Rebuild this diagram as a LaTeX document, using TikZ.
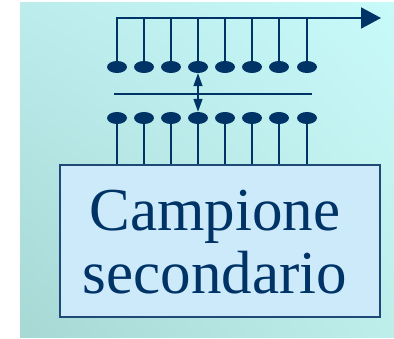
\documentclass[tikz,border=0pt]{standalone}
\usepackage{fontspec}
\setmainfont{Liberation Serif}
\newfontfamily\labelfont{Liberation Serif}
\usetikzlibrary{arrows.meta,shapes.geometric,shadings}
\definecolor{navy}{HTML}{003366}
\definecolor{boxfill}{HTML}{CCEAFA}
\definecolor{boxline}{HTML}{1F4A78}
\definecolor{bgUL}{HTML}{BCECEC}
\definecolor{bgUR}{HTML}{C8FAFA}
\definecolor{bgLL}{HTML}{A6D8D4}
\definecolor{bgLR}{HTML}{BEEEEA}
\tikzset{
  dotnode/.style={ellipse,fill=navy,draw=none,minimum width=20pt,minimum height=12pt,inner sep=0pt},
  wire/.style={draw=navy,line width=2pt},
  thinwire/.style={draw=navy,line width=1.4pt},
  bigtip/.style={-{Triangle[length=20pt,width=21pt]}},
  smalltips/.style={{Triangle[length=13pt,width=9pt]}-{Triangle[length=13pt,width=9pt]}},
  samplebox/.style={draw=boxline,fill=boxfill,line width=1.5pt,minimum width=320pt,minimum height=152pt,inner sep=0pt}
}
\begin{document}
\begin{tikzpicture}[x=1pt,y=-1pt]
\useasboundingbox (0,0) rectangle (394,339);
\shade[upper left=bgUL,upper right=bgUR,lower left=bgLL,lower right=bgLR] (20,3) rectangle (394,338);
% box
\node[samplebox] (box) at (220,241) {};
\node[text=navy,font=\labelfont\fontsize{61}{63}\selectfont,align=center,inner sep=0pt] (label) at (215,242) {Campione\\secondario};
% dots
\foreach \i/\x in {1/117,2/144,3/171,4/198,5/225,6/252,7/279,8/307}{
  \node[dotnode] (u\i) at (\x,67) {};
  \node[dotnode] (l\i) at (\x,118) {};
}
\coordinate (topend) at (381,18);
\coordinate (ml) at (114,94);
\coordinate (mr) at (312,94);
% top bus
\draw[wire,bigtip] (u1.center) |- (topend);
\foreach \i in {2,...,8}{
  \draw[wire] (u\i.center) -- (u\i |- topend);
}
% lower leads
\foreach \i in {1,...,8}{
  \draw[wire] (l\i.center) -- (l\i |- box.north);
}
% middle line
\draw[thinwire] (ml) -- (mr);
% double arrow
\draw[thinwire,smalltips] (u4.south) -- (l4.north);
\end{tikzpicture}
\end{document}
